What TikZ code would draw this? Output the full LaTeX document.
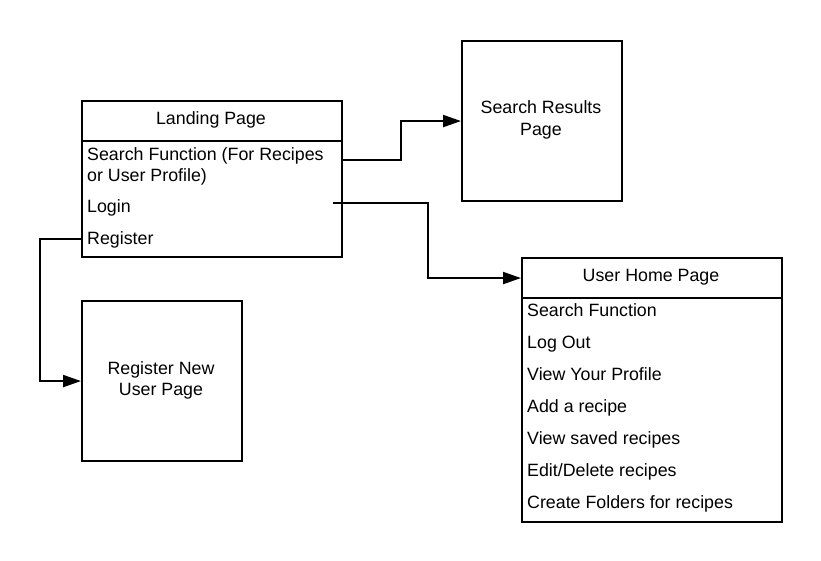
\documentclass[tikz,border=0pt]{standalone}
\usepackage{fontspec}
\setmainfont{Liberation Sans}
\usetikzlibrary{arrows.meta}
\begin{document}
\begin{tikzpicture}[x=1pt,y=-1pt,
  every node/.style={font=\fontsize{17.8}{21.4}\selectfont},
  box/.style={draw,line width=2.1pt,inner sep=0pt,anchor=north west},
  label/.style={inner sep=0pt,anchor=base,align=center},
  item/.style={inner sep=0pt,anchor=base west},
  flow/.style={line width=2.1pt,-{Triangle[length=18pt,width=12pt]}}
]
\useasboundingbox (0,0) rectangle (821,561);

% Landing page: header and item list
% (two-line nodes are placed by the baseline of their last line)
\node[box,minimum width=260pt,minimum height=40pt] (lhead) at (81,100) {};
\node[box,minimum width=260pt,minimum height=116pt] (lbody) at (81,140) {};
\node[label] (ltitle) at (211,124.3) {Landing Page};
\node[item,align=left] (lsearch) at (87,182) {Search Function (For Recipes\\or User Profile)};
\node[item] (llogin) at (87,212.5) {Login};
\node[item] (lreg) at (87,244.5) {Register};

% Search results page
\node[box,minimum width=160pt,minimum height=160pt] (results) at (461,40) {};
\node[label] (rtext) at (541,135.4) {Search Results\\Page};

% Register new user page
\node[box,minimum width=160pt,minimum height=160pt] (register) at (81,300) {};
\node[label] (regtext) at (161,395.4) {Register New\\User Page};

% User home page: header and item list
\node[box,minimum width=260pt,minimum height=40pt] (uhead) at (521,257) {};
\node[box,minimum width=260pt,minimum height=224pt] (ubody) at (521,297) {};
\node[label] (utitle) at (651,281.7) {User Home Page};
\node[item] (u1) at (527,316) {Search Function};
\node[item] (u2) at (527,348) {Log Out};
\node[item] (u3) at (527,380) {View Your Profile};
\node[item] (u4) at (527,412) {Add a recipe};
\node[item] (u5) at (527,444) {View saved recipes};
\node[item] (u6) at (527,476) {Edit/Delete recipes};
\node[item] (u7) at (527,508) {Create Folders for recipes};

% connector start points on the landing page items
\coordinate (srcSearch) at (341,160);
\coordinate (srcLogin) at (333,203);
\coordinate (srcReg) at (81,239);

% connectors
\draw[flow] (srcSearch) -- ++(60,0) |- (results.west);
\draw[flow] (srcLogin) -- ++(95,0) |- (uhead.west);
\draw[flow] (srcReg) -- ++(-41,0) |- (register.west);
\end{tikzpicture}
\end{document}
